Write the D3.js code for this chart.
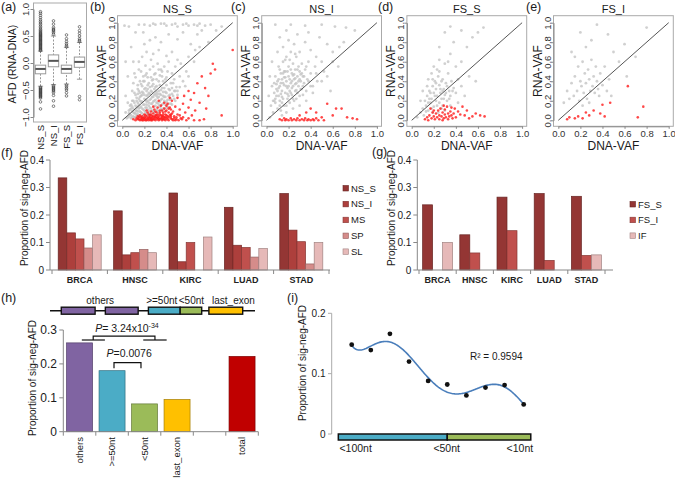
<!DOCTYPE html>
<html><head><meta charset="utf-8">
<script src="https://cdn.jsdelivr.net/npm/d3@7"></script>
<style>body{margin:0;background:#fff}svg{display:block;font-family:"Liberation Sans",Arial,sans-serif}</style>
</head><body><svg id="c" width="675" height="481"></svg>
<script>
// ---------- DATA ----------
// (a) box plot of AFD
const boxCats=["NS_S","NS_I","FS_S","FS_I"];
const boxLo=[-0.43,-0.40,-0.39,-0.30];
const boxQ1=[-0.20,-0.07,-0.19,-0.08];
const boxMed=[-0.11,0.04,-0.11,0.02];
const boxQ3=[-0.04,0.15,-0.04,0.11];
const boxHi=[0.22,0.50,0.29,0.38];
const outNS_S=[0.23,0.245,0.26,0.275,0.29,0.305,0.32,0.335,0.35,0.365,0.38,0.395,0.41,0.425,0.44,0.455,0.47,0.485,0.5,0.515,0.53,0.545,0.56,0.58,0.6,0.62,0.65,0.68,0.71,0.74,0.77,0.8,0.84,0.88,0.92,0.95,-0.45,-0.465,-0.48,-0.495,-0.51,-0.525,-0.54,-0.555,-0.57,-0.585,-0.6,-0.615,-0.63,-0.65,-0.72,-0.85];
const outNS_I=[0.53,0.56,0.59,0.61,0.63,0.66,0.72,0.78,-0.42,-0.44,-0.46,-0.48,-0.5,-0.52,-0.55,-0.6,-0.7,-0.8];
const outFS_S=[0.3,0.33,0.36,0.4,0.45,0.52,-0.41,-0.44,-0.47,-0.5,-0.55,-0.61];
const outFS_I=[0.4,0.42,0.45,0.5,0.55,0.6,0.67,-0.62,-0.68];
const boxOut=[outNS_S,outNS_I,outFS_S,outFS_I];
const afdTicks=[-1,-0.5,0,0.5,1];

// (b)-(e) scatter: [DNA-VAF %, RNA-VAF %]
const vafTicks=[0,0.2,0.4,0.6,0.8,1];
const nsS_gray=[[5,3],[7,6],[8,2],[9,9],[10,4],[10,12],[11,7],[12,15],[12,3],[13,10],[14,18],[14,6],[15,12],[15,22],[16,4],[16,9],[17,14],[17,25],[18,7],[18,19],[19,11],[19,28],[20,3],[20,16],[20,22],[21,8],[21,33],[22,13],[22,19],[23,5],[23,26],[24,10],[24,15],[24,38],[25,21],[25,7],[26,12],[26,30],[27,17],[27,24],[28,9],[28,42],[29,14],[29,20],[30,27],[30,5],[31,11],[31,35],[32,18],[32,23],[33,8],[33,30],[34,14],[34,46],[35,21],[35,26],[36,10],[36,33],[37,17],[37,40],[38,24],[38,12],[39,29],[40,19],[40,36],[41,14],[41,50],[42,25],[43,21],[43,31],[44,17],[45,27],[46,38],[47,22],[48,30],[50,26],[52,34],[55,40],[13,23],[15,30],[18,35],[11,28],[9,20],[7,15],[6,10],[16,40],[19,45],[22,48],[25,52],[14,36],[20,40],[23,44],[28,55],[30,48],[32,58],[35,52],[26,62],[21,56],[17,50],[12,44],[10,38],[27,35],[33,40],[36,45],[38,55],[40,44],[42,60],[45,48],[24,28],[29,32],[31,25],[34,36],[37,29],[39,42],[26,44],[22,30],[18,26],[16,20],[14,27],[13,5],[8,12],[6,4],[4,2],[3,8],[5,18],[9,30],[11,48],[15,60],[18,65],[22,70],[28,68],[33,72],[40,66],[45,70],[50,62],[48,55],[53,58],[58,50],[60,65],[20,78],[25,82],[30,85],[35,80],[42,88],[50,83],[55,90],[62,78],[68,88],[70,75],[12,90],[8,75],[15,98],[20,98],[25,97],[30,98],[35,99],[40,97],[45,98],[50,96],[55,98],[60,97],[65,98],[70,99],[75,97],[80,98],[28,99],[38,99],[48,99],[58,99],[68,97],[10,60],[5,45],[3,25],[2,97],[6,96],[85,92],[78,80],[65,60],[60,45],[57,35],[52,45],[47,42],[44,38],[66,72],[72,92],[90,96],[3,60],[19,90],
[6,7],[7,11],[8,5],[9,14],[10,8],[11,3],[11,18],[12,10],[13,13],[13,20],[14,9],[15,16],[15,5],[16,24],[16,13],[17,8],[17,19],[18,12],[18,29],[19,16],[19,5],[20,10],[20,26],[21,13],[21,21],[22,7],[22,16],[22,25],[23,11],[23,20],[23,32],[24,18],[24,6],[25,13],[25,27],[26,17],[26,22],[26,5],[27,10],[27,29],[28,19],[28,24],[29,8],[29,26],[30,15],[30,21],[30,34],[31,18],[31,29],[32,10],[32,27],[33,16],[33,24],[34,19],[34,27],[35,12],[35,31],[36,22],[36,16],[37,25],[37,12],[38,20],[38,33],[39,16],[39,24],[40,13],[40,28],[41,21],[42,17],[42,32],[43,26],[44,22],[45,16],[45,33],[46,25],[47,30],[48,20],[49,34],[50,30],[12,26],[10,20],[8,16],[14,32],[17,37],[20,32],[25,34],[28,37],[31,42],[19,40],[23,36],[9,3],[12,7],[14,14],[16,28],[27,41],[29,47],[33,52],[36,50],[21,46],[15,52]];
const nsS_red=[[10,1],[12,0],[13,2],[14,1],[15,3],[16,0],[17,1],[18,2],[18,4],[19,0],[20,1],[20,6],[21,2],[22,0],[22,4],[23,1],[23,8],[24,3],[24,0],[25,5],[25,1],[26,2],[26,9],[27,0],[27,4],[28,1],[28,7],[29,3],[29,11],[30,0],[30,5],[31,2],[31,8],[32,1],[32,13],[33,4],[33,0],[34,6],[34,10],[35,2],[35,15],[36,0],[36,4],[37,8],[37,1],[38,12],[38,3],[39,0],[39,6],[40,2],[40,10],[41,17],[41,4],[42,0],[42,8],[43,13],[44,2],[44,6],[45,20],[45,1],[46,9],[47,4],[48,14],[48,0],[50,6],[50,23],[52,11],[53,2],[55,17],[56,25],[57,8],[58,0],[60,13],[60,30],[62,21],[63,5],[65,28],[66,10],[68,38],[70,18],[72,45],[74,1],[75,33],[78,25],[80,48],[82,58],[84,52],[76,12],[90,5],[100,72],[55,3],[46,0],[49,1],[51,0],[43,23],[38,18],[33,20],[28,14],[22,10],[16,5],[60,2],[65,0],[70,0],
[14,4],[15,1],[17,3],[19,2],[20,3],[21,5],[23,2],[24,6],[25,3],[26,6],[27,2],[28,4],[29,1],[30,3],[31,5],[32,3],[33,2],[34,1],[34,8],[35,5],[36,2],[37,4],[38,1],[39,3],[40,5],[41,1],[42,3],[43,5],[44,4],[45,7],[47,2],[49,3],[52,5],[54,1],[36,10],[40,15],[44,11],[30,9],[26,0],[21,0],[18,0],[32,6],[37,6],[42,12],[39,9]];
const nsI_gray=[[2,25],[4,15],[5,35],[6,8],[7,28],[8,18],[8,45],[9,32],[10,12],[10,40],[11,25],[11,55],[12,20],[12,35],[13,48],[13,10],[14,30],[14,42],[15,22],[15,60],[16,36],[16,15],[17,50],[17,28],[18,40],[18,65],[19,22],[19,33],[20,45],[20,55],[21,30],[21,18],[22,38],[22,70],[23,48],[23,26],[24,35],[24,58],[25,42],[25,20],[26,30],[26,52],[27,38],[27,65],[28,28],[28,45],[29,35],[30,50],[30,25],[31,40],[32,58],[32,32],[33,45],[34,38],[35,52],[36,30],[37,42],[38,60],[40,48],[42,35],[44,55],[46,40],[15,75],[20,82],[25,78],[30,70],[35,80],[40,72],[45,65],[50,60],[12,85],[18,92],[28,88],[38,90],[48,85],[55,78],[60,70],[8,98],[22,98],[35,97],[50,98],[62,96],[72,95],[80,92],[5,60],[10,70],[3,45],[14,5],[18,8],[24,12],[30,15],[36,20],[42,28],[50,40],[55,45],[58,30],[65,55],[70,80],[3,3],[6,20],[9,25],[13,38],[16,44],[19,50],[22,28],[24,46],[27,22],[29,55],[31,32],[33,26],[11,42],[7,38],[17,62],[21,62],[26,68],[12,52],[15,48],[20,35],[23,40],[26,43],[10,30],[8,22],[14,24],[45,48],[52,50],[60,60],[66,75],
[11,33],[13,27],[15,38],[17,44],[19,27],[21,42],[23,33],[25,47],[27,31],[29,40],[31,47],[33,35],[20,25],[18,35],[16,50],[22,52],[24,22],[26,37],[28,52],[30,42],[12,15],[14,18],[9,37],[7,20],[18,15],[32,48],[34,45],[36,55],[38,40],[40,35]];
const nsI_red=[[12,1],[14,0],[16,2],[17,0],[18,1],[20,0],[22,2],[23,0],[25,1],[27,0],[28,2],[30,0],[32,1],[34,0],[35,2],[37,0],[38,1],[40,0],[42,1],[43,0],[45,2],[47,0],[50,3],[52,0],[36,8],[40,12],[45,8],[55,17],[60,5],[63,12],[68,12],[78,2],[82,1],[73,3],[30,5]];
const fsS_gray=[[5,3],[8,8],[10,12],[11,5],[12,20],[13,15],[14,25],[15,10],[16,30],[17,18],[18,22],[19,35],[20,14],[20,28],[21,40],[22,20],[22,32],[23,25],[24,45],[25,18],[25,36],[26,28],[27,22],[28,42],[28,15],[29,32],[30,26],[31,38],[32,20],[33,48],[34,30],[35,25],[36,40],[38,33],[40,28],[42,42],[45,35],[48,25],[20,55],[25,62],[30,58],[35,68],[18,48],[15,42],[40,55],[45,60],[50,75],[38,80],[55,85],[60,90],[65,95],[25,75],[30,90],[35,96],[45,92],[52,45],[58,40],[10,30],[8,20],[24,8],[30,10],[35,15],[42,18],[27,12],[19,8],[14,35],[23,52],[33,60],
[15,18],[18,12],[21,25],[23,15],[26,32],[29,22],[31,28],[34,22],[37,30],[17,28],[19,42],[22,38],[25,50],[28,30],[32,35],[27,40],[16,22],[13,9]];
const fsS_red=[[12,1],[14,3],[15,0],[16,5],[18,2],[19,8],[20,4],[21,1],[22,7],[23,3],[24,10],[25,5],[25,1],[26,12],[27,4],[28,8],[28,0],[29,2],[30,6],[30,11],[31,3],[32,14],[33,7],[33,1],[34,4],[35,9],[36,5],[37,2],[38,7],[39,12],[40,3],[42,9],[44,6],[46,14],[48,5],[50,10],[52,2],[55,4],[58,7],[62,5],[66,4],[20,10],[17,12],[29,15],[36,13]];
const fsI_gray=[[5,18],[8,30],[10,22],[12,38],[14,25],[15,45],[17,30],[18,55],[19,20],[20,40],[21,35],[22,60],[23,28],[24,48],[25,38],[26,22],[27,52],[28,42],[29,30],[30,62],[31,35],[32,45],[33,28],[34,55],[35,40],[36,32],[38,48],[40,36],[42,55],[44,30],[46,42],[25,75],[30,82],[20,90],[35,98],[45,88],[50,70],[55,60],[60,78],[70,65],[80,95],[62,45],[15,65],[12,70],[37,25],[28,18],[22,15],[48,25]];
const fsI_red=[[8,1],[10,3],[15,2],[18,4],[22,2],[25,8],[28,5],[32,10],[38,7],[40,16],[47,18],[63,35],[72,3],[77,14],[42,4]];

// (f) proportions by cancer type
const cancers=["BRCA","HNSC","KIRC","LUAD","STAD"];
const fSeries=["NS_S","NS_I","MS","SP","SL"];
const fNS_S=[0.335,0.215,0.280,0.228,0.278];
const fNS_I=[0.135,0.055,0.030,0.090,0.145];
const fMS=[0.113,0.063,0.100,0.082,0.103];
const fSP=[0.080,0.075,0,0.047,0.022];
const fSL=[0.128,0.063,0.120,0.078,0.100];
const fColors=["#943634","#AD3F3C","#C0504D","#D58C8A","#E6B9B8"];
// (g)
const gSeries=["FS_S","FS_I","IF"];
const gFS_S=[0.237,0.128,0.265,0.278,0.268];
const gFS_I=[0,0.062,0.143,0.035,0.053];
const gIF=[0.100,0,0,0,0.055];
const gColors=["#943634","#C0504D","#E6B9B8"];
const propTicks=[0,0.1,0.2,0.3,0.4];
// (h)
const hCats=["others",">=50nt","<50nt","last_exon","","total"];
const hVals=[0.262,0.180,0.082,0.095,null,0.222];
const hColors=["#8064A2","#4BACC6","#9BBB59","#FFC000","#fff","#C00000"];
const hTicks=[0,0.1,0.2,0.3];
// (i)
const iPos=[1,2,3,4,5,6,7,8,9,10];
const iVals=[0.148,0.139,0.166,0.120,0.088,0.082,0.064,0.077,0.081,0.049];
const iTicks=[0,0.1,0.2];

// ---------- DRAW ----------
const svg=d3.select("#c");
const ink="#1a1a1a";
const fmt1=d3.format(".1f");
const fmtP=v=>v===0?"0":fmt1(v);

function label(t,x,y){svg.append("text").attr("x",x).attr("y",y).attr("font-size",12.5).attr("fill",ink).text(t);}

// (a)
{
 const ya=d3.scaleLinear().domain([-1,1]).range([117,9]);
 const xa=d3.scaleBand().domain(boxCats).range([34,86]).paddingInner(0.2).paddingOuter(0.1);
 const g=svg.append("g");
 const bw=xa.bandwidth();
 boxCats.forEach((c,i)=>{
  const cx=xa(c)+bw/2;
  g.append("line").attr("x1",cx).attr("x2",cx).attr("y1",ya(boxHi[i])).attr("y2",ya(boxQ3[i])).attr("stroke","#999").attr("stroke-dasharray","2,1.5");
  g.append("line").attr("x1",cx).attr("x2",cx).attr("y1",ya(boxLo[i])).attr("y2",ya(boxQ1[i])).attr("stroke","#999").attr("stroke-dasharray","2,1.5");
  [boxHi[i],boxLo[i]].forEach(v=>g.append("line").attr("x1",cx-bw/4).attr("x2",cx+bw/4).attr("y1",ya(v)).attr("y2",ya(v)).attr("stroke","#999"));
  g.append("rect").attr("x",xa(c)).attr("width",bw).attr("y",ya(boxQ3[i])).attr("height",ya(boxQ1[i])-ya(boxQ3[i])).attr("fill","#fff").attr("stroke","#999");
  g.append("line").attr("x1",xa(c)).attr("x2",xa(c)+bw).attr("y1",ya(boxMed[i])).attr("y2",ya(boxMed[i])).attr("stroke","#555").attr("stroke-width",2);
  g.selectAll(null).data(boxOut[i]).enter().append("circle").attr("cx",cx).attr("cy",d=>ya(d)).attr("r",1.3).attr("fill","none").attr("stroke","#333").attr("stroke-width",0.6);
 });
 g.append("rect").attr("x",33.5).attr("y",3).attr("width",53).attr("height",119).attr("fill","none").attr("stroke","#aaa");
 const ax=g.append("g").attr("transform","translate(33.5,0)").call(d3.axisLeft(ya).tickValues(afdTicks).tickFormat(fmt1).tickSize(3).tickSizeOuter(0));
 ax.select(".domain").attr("stroke","#888");ax.selectAll("line").attr("stroke","#888");
 ax.selectAll("text").attr("x",0).attr("dy",0).attr("text-anchor","middle").attr("transform","translate(-5,0) rotate(-90)").attr("font-size",9.5).attr("fill","#333");
 boxCats.forEach(c=>g.append("text").attr("transform",`translate(${xa(c)+bw/2+3.5},125) rotate(-90)`).attr("text-anchor","end").attr("font-size",9.5).attr("fill",ink).text(c));
 g.append("text").attr("transform","translate(16,64) rotate(-90)").attr("text-anchor","middle").attr("font-size",10.5).attr("fill",ink).text("AFD (RNA-DNA)");
 label("(a)",1,11);
}

// (b)-(e)
function scatter(x0,title,gray,red){
 const x=d3.scaleLinear().domain([0,1]).range([x0,x0+110.4]);
 const y=d3.scaleLinear().domain([0,1]).range([120.3,22.7]);
 const L=x(0)-4.8,R=x(1)+4.6,T=y(1)-7,B=y(0)+6;
 const g=svg.append("g");
 g.selectAll(null).data(gray).enter().append("circle").attr("cx",d=>x(d[0]/100)).attr("cy",d=>y(d[1]/100)).attr("r",1.4).attr("fill","#c4c4c4").attr("opacity",0.8);
 g.selectAll(null).data(red).enter().append("circle").attr("cx",d=>x(d[0]/100)).attr("cy",d=>y(d[1]/100)).attr("r",1.3).attr("fill","#ff1a1a").attr("opacity",0.8);
 g.append("line").attr("x1",x(0)).attr("y1",y(0)).attr("x2",x(1)).attr("y2",y(1)).attr("stroke","#555").attr("stroke-width",1);
 g.append("rect").attr("x",L).attr("y",T).attr("width",R-L).attr("height",B-T).attr("fill","none").attr("stroke","#aaa");
 const ab=g.append("g").attr("transform",`translate(0,${B})`).call(d3.axisBottom(x).tickValues(vafTicks).tickFormat(fmt1).tickSize(2.5).tickPadding(1.5).tickSizeOuter(0));
 ab.select(".domain").attr("stroke","#888");ab.selectAll("line").attr("stroke","#888");
 ab.selectAll("text").attr("font-size",9.5).attr("fill","#333");
 const al=g.append("g").attr("transform",`translate(${L},0)`).call(d3.axisLeft(y).tickValues(vafTicks).tickFormat(fmt1).tickSize(2.5).tickSizeOuter(0));
 al.select(".domain").attr("stroke","#888");al.selectAll("line").attr("stroke","#888");
 al.selectAll("text").attr("x",0).attr("dy",0).attr("text-anchor","middle").attr("transform","translate(-3,0) rotate(-90)").attr("font-size",9.5).attr("fill","#333");
 g.append("text").attr("x",(L+R)/2).attr("y",13).attr("text-anchor","middle").attr("font-size",11).attr("fill",ink).text(title);
 g.append("text").attr("x",(L+R)/2).attr("y",150).attr("text-anchor","middle").attr("font-size",12).attr("fill",ink).text("DNA-VAF");
 g.append("text").attr("transform",`translate(${L-11.5},${(T+B)/2}) rotate(-90)`).attr("text-anchor","middle").attr("font-size",12).attr("fill",ink).text("RNA-VAF");
}
scatter(122.3,"NS_S",nsS_gray,nsS_red);
scatter(266.5,"NS_I",nsI_gray,nsI_red);
scatter(411.7,"FS_S",fsS_gray,fsS_red);
scatter(558.3,"FS_I",fsI_gray,fsI_red);
label("(b)",90,11);label("(c)",231,11);label("(d)",378,11);label("(e)",526,11);

// Excel-style axes helper
function excelAxes(g,x0,x1,yScale,ticks,fs,bands,band){
 const yb=yScale(0);
 g.append("line").attr("x1",x0).attr("x2",x0).attr("y1",yScale(ticks[ticks.length-1])).attr("y2",yb).attr("stroke","#888");
 g.append("line").attr("x1",x0).attr("x2",x1).attr("y1",yb).attr("y2",yb).attr("stroke","#888");
 ticks.forEach(t=>{
  g.append("line").attr("x1",x0-4).attr("x2",x0).attr("y1",yScale(t)).attr("y2",yScale(t)).attr("stroke","#888");
  g.append("text").attr("x",x0-6).attr("y",yScale(t)).attr("dy","0.35em").attr("text-anchor","end").attr("font-size",fs).attr("fill",ink).text(fmtP(t));
 });
 if(bands){bands.forEach(c=>g.append("line").attr("x1",band(c)).attr("x2",band(c)).attr("y1",yb).attr("y2",yb+4).attr("stroke","#888"));
  const e=band(bands[bands.length-1])+band.step();g.append("line").attr("x1",e).attr("x2",e).attr("y1",yb).attr("y2",yb+4).attr("stroke","#888");}
}

// (f)
{
 const g=svg.append("g");
 const y=d3.scaleLinear().domain([0,0.4]).range([270,160]);
 const x=d3.scaleBand().domain(cancers).range([52,329]);
 const xs=d3.scaleBand().domain(fSeries).range([0,x.bandwidth()]).paddingOuter(0.72);
 const vals=[fNS_S,fNS_I,fMS,fSP,fSL];
 cancers.forEach((c,ci)=>fSeries.forEach((s,si)=>{
  const v=vals[si][ci]; if(!v) return;
  g.append("rect").attr("x",x(c)+xs(s)).attr("width",xs.bandwidth()).attr("y",y(v)).attr("height",y(0)-y(v)).attr("fill",fColors[si]).attr("stroke",d3.color(fColors[si]).darker(1)).attr("stroke-width",0.7);
 }));
 excelAxes(g,50,330,y,propTicks,10,cancers,x);
 cancers.forEach(c=>g.append("text").attr("x",x(c)+x.bandwidth()/2).attr("y",283).attr("text-anchor","middle").attr("font-size",9).attr("font-weight","bold").attr("fill","#222").text(c));
 g.append("text").attr("transform","translate(28,208) rotate(-90)").attr("text-anchor","middle").attr("font-size",10).attr("fill",ink).text("Proportion of sig-neg-AFD");
 fSeries.forEach((s,i)=>{
  g.append("rect").attr("x",343).attr("y",185.5+i*15.85).attr("width",5.5).attr("height",5.5).attr("fill",fColors[i]).attr("stroke",d3.color(fColors[i]).darker(1)).attr("stroke-width",0.6);
  g.append("text").attr("x",351).attr("y",188.3+i*15.85).attr("dy","0.35em").attr("font-size",9.5).attr("fill",ink).text(s);
 });
 label("(f)",1,157);
}

// (g)
{
 const g=svg.append("g");
 const y=d3.scaleLinear().domain([0,0.4]).range([270,160]);
 const x=d3.scaleBand().domain(cancers).range([419,605]);
 const xs=d3.scaleBand().domain(gSeries).range([0,x.bandwidth()]).paddingOuter(0.36);
 const vals=[gFS_S,gFS_I,gIF];
 cancers.forEach((c,ci)=>gSeries.forEach((s,si)=>{
  const v=vals[si][ci]; if(!v) return;
  g.append("rect").attr("x",x(c)+xs(s)).attr("width",xs.bandwidth()).attr("y",y(v)).attr("height",y(0)-y(v)).attr("fill",gColors[si]).attr("stroke",d3.color(gColors[si]).darker(1)).attr("stroke-width",0.7);
 }));
 excelAxes(g,417.3,613,y,propTicks,10,cancers,x);
 cancers.forEach(c=>g.append("text").attr("x",x(c)+x.bandwidth()/2).attr("y",283).attr("text-anchor","middle").attr("font-size",9).attr("font-weight","bold").attr("fill","#222").text(c));
 g.append("text").attr("transform","translate(395,208) rotate(-90)").attr("text-anchor","middle").attr("font-size",10).attr("fill",ink).text("Proportion of sig-neg-AFD");
 gSeries.forEach((s,i)=>{
  g.append("rect").attr("x",630).attr("y",201.5+i*15.7).attr("width",5.5).attr("height",5.5).attr("fill",gColors[i]).attr("stroke",d3.color(gColors[i]).darker(1)).attr("stroke-width",0.6);
  g.append("text").attr("x",638).attr("y",204.3+i*15.7).attr("dy","0.35em").attr("font-size",9.5).attr("fill",ink).text(s);
 });
 label("(g)",372,156);
}

// (h)
{
 const g=svg.append("g");
 const y=d3.scaleLinear().domain([0,0.3]).range([431.7,330]);
 const x=d3.scaleBand().domain(hCats).range([63.3,258.3]).paddingInner(0.2).paddingOuter(0.1);
 hCats.forEach((c,i)=>{const v=hVals[i]; if(v==null) return;
  g.append("rect").attr("x",x(c)).attr("width",x.bandwidth()).attr("y",y(v)).attr("height",y(0)-y(v)).attr("fill",hColors[i]).attr("stroke",d3.color(hColors[i]).darker(1.2)).attr("stroke-width",0.7);
 });
 g.append("line").attr("x1",63.3).attr("x2",63.3).attr("y1",y(0.3)).attr("y2",y(0)).attr("stroke","#888");
 g.append("line").attr("x1",63.3).attr("x2",258.3).attr("y1",y(0)).attr("y2",y(0)).attr("stroke","#888");
 hTicks.forEach(t=>{g.append("line").attr("x1",59.3).attr("x2",63.3).attr("y1",y(t)).attr("y2",y(t)).attr("stroke","#888");
  g.append("text").attr("x",57).attr("y",y(t)).attr("dy","0.35em").attr("text-anchor","end").attr("font-size",12).attr("fill",ink).text(fmtP(t));});
 const step=x.step();
 for(let k=0;k<=hCats.length;k++){const bx=63.3+k*step;g.append("line").attr("x1",bx).attr("x2",bx).attr("y1",y(0)).attr("y2",y(0)+4).attr("stroke","#888");}
 hCats.forEach(c=>{if(!c)return;g.append("text").attr("transform",`translate(${x(c)+x.bandwidth()/2+3},437) rotate(-90)`).attr("text-anchor","end").attr("font-size",9.5).attr("fill",ink).text(c);});
 g.append("text").attr("transform","translate(36,378) rotate(-90)").attr("text-anchor","middle").attr("font-size",10).attr("fill",ink).text("Proportion of sig-neg-AFD");
 const sx=i=>x(hCats[0])+x.bandwidth()/2+i*step;
 const br=(pts)=>g.append("path").attr("d",d3.line()(pts)).attr("fill","none").attr("stroke","#111").attr("stroke-width",1.2);
 br([[sx(0.07),y(0.2705)],[sx(0.78),y(0.2705)]]);
 br([[sx(0.42),y(0.2705)],[sx(0.42),y(0.282)],[sx(2.32),y(0.282)],[sx(2.32),y(0.2705)]]);
 br([[sx(1.96),y(0.2705)],[sx(2.68),y(0.2705)]]);
 br([[sx(1.06),y(0.187)],[sx(1.06),y(0.2035)],[sx(1.89),y(0.2035)],[sx(1.89),y(0.187)]]);
 const t1=g.append("text").attr("x",sx(0.48)).attr("y",332).attr("font-size",10.5).attr("fill",ink);
 t1.append("tspan").attr("font-style","italic").text("P");t1.append("tspan").text("= 3.24x10");
 t1.append("tspan").attr("dy",-4).attr("font-size",7).text("-34");
 const t2=g.append("text").attr("x",sx(0.83)).attr("y",357).attr("font-size",10.5).attr("fill",ink);
 t2.append("tspan").attr("font-style","italic").text("P");t2.append("tspan").text("=0.0076");
 const sc=d3.scaleLinear().domain([0,20]).range([50,255]);
 const exons=[[1.1,4.4,"#8064A2"],[5.4,8.6,"#8064A2"],[9.6,12.7,"#4BACC6"],[12.7,14.8,"#9BBB59"],[15.5,18.8,"#FFC000"]];
 g.append("line").attr("x1",sc(0)).attr("x2",sc(20)).attr("y1",310.7).attr("y2",310.7).attr("stroke","#111").attr("stroke-width",1.5);
 exons.forEach(e=>g.append("rect").attr("x",sc(e[0])).attr("width",sc(e[1])-sc(e[0])).attr("y",307.2).attr("height",7).attr("fill",e[2]).attr("stroke","#111").attr("stroke-width",1.4));
 [["others",4.9],[">=50nt",10.9],["<50nt",13.8],["last_exon",17.9]].forEach(l=>g.append("text").attr("x",sc(l[1])).attr("y",303.5).attr("text-anchor","middle").attr("font-size",10).attr("fill",ink).text(l[0]));
 label("(h)",1,302);
}

// (i)
{
 const g=svg.append("g");
 const x=d3.scaleLinear().domain([1,10]).range([351.7,523.7]);
 const y=d3.scaleLinear().domain([0,0.2]).range([434,313.3]);
 g.append("line").attr("x1",331.7).attr("x2",331.7).attr("y1",y(0.2)).attr("y2",y(0)).attr("stroke","#aaa");
 iTicks.forEach(t=>{g.append("line").attr("x1",328).attr("x2",331.7).attr("y1",y(t)).attr("y2",y(t)).attr("stroke","#aaa");
  g.append("text").attr("x",325.5).attr("y",y(t)).attr("dy","0.35em").attr("text-anchor","end").attr("font-size",10).attr("fill",ink).text(fmtP(t));});
 function polyfit(xs,ys,deg){
  const n=deg+1,A=Array.from({length:n},()=>new Array(n+1).fill(0));
  const ts=xs.map(v=>(v-5.5)/4.5);
  ts.forEach((t,k)=>{const p=d3.range(n).map(i=>Math.pow(t,i));
   for(let i=0;i<n;i++){for(let j=0;j<n;j++)A[i][j]+=p[i]*p[j];A[i][n]+=p[i]*ys[k];}});
  for(let i=0;i<n;i++){let m=i;for(let r=i+1;r<n;r++)if(Math.abs(A[r][i])>Math.abs(A[m][i]))m=r;
   [A[i],A[m]]=[A[m],A[i]];
   for(let r=0;r<n;r++){if(r===i)continue;const f=A[r][i]/A[i][i];for(let c=i;c<=n;c++)A[r][c]-=f*A[i][c];}}
  const co=A.map((row,i)=>row[n]/row[i]);
  return v=>{const t=(v-5.5)/4.5;return co.reduce((s,c,i)=>s+c*Math.pow(t,i),0);};
 }
 const f=polyfit(iPos,iVals,6);
 const xsamp=d3.range(1,10.001,0.05);
 g.append("path").attr("d",d3.line().x(d=>x(d)).y(d=>y(f(d)))(xsamp)).attr("fill","none").attr("stroke","#4A7EBB").attr("stroke-width",1.6);
 g.selectAll(null).data(iPos).enter().append("circle").attr("cx",d=>x(d)).attr("cy",(d,i)=>y(iVals[i])).attr("r",2.4).attr("fill","#111");
 const segs=[[0.3,6.0,"#4BACC6"],[6.0,10.37,"#9BBB59"]];
 segs.forEach(s=>g.append("rect").attr("x",x(s[0])).attr("width",x(s[1])-x(s[0])).attr("y",434).attr("height",6).attr("fill",s[2]).attr("stroke","#111").attr("stroke-width",1.5));
 g.append("text").attr("x",x(0.36)).attr("y",452).attr("font-size",10.5).attr("fill",ink).text("<100nt");
 g.append("text").attr("x",x(5.97)).attr("y",452).attr("text-anchor","middle").attr("font-size",10.5).attr("fill",ink).text("<50nt");
 g.append("text").attr("x",x(9.8)).attr("y",452).attr("text-anchor","middle").attr("font-size",10.5).attr("fill",ink).text("<10nt");
 g.append("text").attr("x",470).attr("y",359.5).attr("font-size",10).attr("fill",ink).text("R² = 0.9594");
 g.append("text").attr("transform","translate(306,363) rotate(-90)").attr("text-anchor","middle").attr("font-size",10).attr("fill",ink).text("Proportion of sig-neg-AFD");
 label("(i)",287,302);
}
</script></body></html>
